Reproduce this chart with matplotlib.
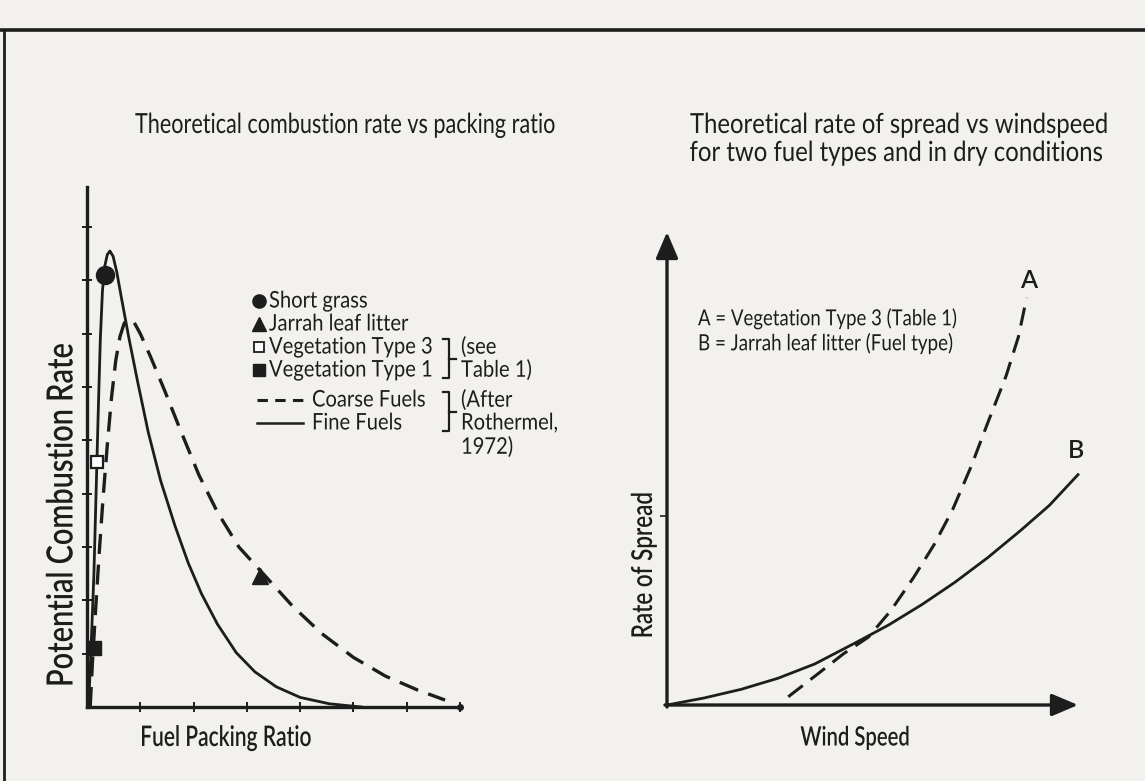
import matplotlib
matplotlib.use("Agg")
import matplotlib.pyplot as plt
from matplotlib.lines import Line2D
from matplotlib.patheffects import AbstractPathEffect
from matplotlib.transforms import Affine2D

# ---------------- data ----------------
# Left panel: theoretical combustion rate vs packing ratio (arbitrary units)
fine_x = [0.03, 0.08, 0.13, 0.17, 0.21, 0.25, 0.29, 0.33, 0.38, 0.43, 0.49, 0.56, 0.65, 0.78,
          0.95, 1.15, 1.38, 1.65, 1.9, 2.15, 2.45, 2.8, 3.15, 3.55, 4.0, 4.55, 5.15]
fine_y = [0.0, 1.2, 2.5, 4.0, 5.5, 6.9, 7.8, 8.25, 8.48, 8.55, 8.45, 8.15, 7.65, 6.95,
          6.1, 5.15, 4.25, 3.4, 2.7, 2.12, 1.55, 1.02, 0.66, 0.38, 0.18, 0.06, 0.0]
coarse_x = [0.06, 0.10, 0.16, 0.23, 0.30, 0.38, 0.46, 0.54, 0.62, 0.70, 0.79, 0.88, 1.0, 1.2,
            1.45, 1.75, 2.1, 2.45, 2.85, 3.35, 3.85, 4.4, 5.0, 5.6, 6.2, 6.72]
coarse_y = [0.0, 0.8, 1.8, 2.9, 3.9, 4.9, 5.8, 6.5, 6.95, 7.2, 7.27, 7.22, 7.0, 6.55,
            5.95, 5.2, 4.35, 3.65, 3.0, 2.45, 1.9, 1.38, 0.93, 0.58, 0.32, 0.13]
point_names = ["Short grass", "Jarrah leaf litter", "Vegetation Type 3", "Vegetation Type 1"]
point_x = [0.33, 3.25, 0.19, 0.14]
point_y = [8.1, 2.45, 4.6, 1.1]
left_xticks = [1, 2, 3, 4, 5, 6, 7]
left_yticks = [1, 2, 3, 4, 5, 6, 7, 8, 9]

# Right panel: theoretical rate of spread vs windspeed
B_x = [0, 0.9, 1.8, 2.7, 3.6, 4.6, 5.4, 6.2, 7.0, 7.8, 8.6, 9.3, 10.0]
B_y = [0, 0.17, 0.38, 0.65, 1.0, 1.52, 1.95, 2.44, 2.98, 3.58, 4.24, 4.85, 5.6]
A_x = [2.95, 3.7, 4.3, 4.9, 5.45, 6.0, 6.5, 6.95, 7.4, 7.8, 8.25, 8.55, 8.75]
A_y = [0.2, 0.78, 1.25, 1.65, 2.3, 3.1, 3.9, 4.75, 5.8, 6.85, 8.0, 8.95, 9.9]

INK = "#1d1d1d"
BG = "#f2f1ed"
FONT = ["Lato", "DejaVu Sans"]

W, H = 1145, 781
fig = plt.figure(figsize=(W / 100, H / 100), dpi=100, facecolor=BG)
plt.rcParams["font.family"] = FONT


def fx(px):
    return px / W


def fy(py):
    return 1 - py / H


class Squeeze(AbstractPathEffect):
    """draw the glyphs narrower (condensed face look), about an anchor point"""

    def __init__(self, s, cx, cy, vertical=False):
        super().__init__()
        self.s, self.cx, self.cy, self.vertical = s, cx, cy, vertical

    def draw_path(self, renderer, gc, tpath, affine, rgbFace=None):
        if self.vertical:
            extra = Affine2D().translate(0, -self.cy).scale(1, self.s).translate(0, self.cy)
        else:
            extra = Affine2D().translate(-self.cx, 0).scale(self.s, 1).translate(self.cx, 0)
        renderer.draw_path(gc, tpath, affine + extra, rgbFace)


def natural_width(t):
    bb = t.get_window_extent(renderer=fig.canvas.get_renderer())
    return bb.height if t.get_rotation() else bb.width


def ftext(x, y, s, width=None, size=14, rot=0, ha="left", va="center", weight="normal",
          sq=0.8, keep_size=False):
    """text of given width; keep_size=True keeps the size and adjusts the squeeze instead"""
    t = fig.text(fx(x), fy(y), s, fontsize=size, rotation=rot, ha=ha, va=va,
                 color=INK, fontweight=weight, family=FONT)
    if width:
        w = natural_width(t)
        if keep_size:
            sq = width / w
        else:
            t.set_fontsize(size * width / (w * sq))
    t.set_path_effects([Squeeze(sq, x, H - y, vertical=bool(rot))])
    return t


# page frame (top rule and left rule)
fig.add_artist(Line2D([fx(0), fx(W)], [fy(30), fy(30)], color=INK, lw=2.6))
fig.add_artist(Line2D([fx(4), fx(4)], [fy(30), fy(H)], color=INK, lw=2.0))

# ---------------- left panel ----------------
axL = fig.add_axes([fx(87), fy(707), fx(460) - fx(87), fy(187) - fy(707)])
axL.set_facecolor("none")
axL.set_xlim(0, 7)
axL.set_ylim(0, 9.75)
for s in ["top", "right"]:
    axL.spines[s].set_visible(False)
for s in ["left", "bottom"]:
    axL.spines[s].set_linewidth(2.4)
    axL.spines[s].set_color(INK)
axL.set_xticks(left_xticks)
axL.set_yticks(left_yticks)
axL.tick_params(direction="inout", length=7, width=1.4, color=INK,
                labelbottom=False, labelleft=False)
axL.plot([7], [0], marker="o", ms=4, color=INK, clip_on=False)

axL.plot(fine_x, fine_y, color=INK, lw=2.0, solid_joinstyle="round", clip_on=False)
axL.plot(coarse_x, coarse_y, color=INK, lw=2.4, dashes=(6, 3.2), clip_on=False)

styles = [dict(marker="o", ms=13, mfc=INK, mec=INK),
          dict(marker="^", ms=12, mfc=INK, mec=INK),
          dict(marker="s", ms=9, mfc="white", mec=INK, mew=1.6),
          dict(marker="s", ms=10, mfc=INK, mec=INK)]
for x, y, st in zip(point_x, point_y, styles):
    axL.plot([x], [y], linestyle="none", clip_on=False, zorder=5, **st)

# legend (manual, as in the reference)
leg_rows = [301, 324, 347, 370]
leg_styles = [dict(marker="o", ms=9.5, mfc=INK, mec=INK),
              dict(marker="^", ms=9.5, mfc=INK, mec=INK),
              dict(marker="s", ms=7.5, mfc="white", mec=INK, mew=1.3),
              dict(marker="s", ms=8, mfc=INK, mec=INK)]
LS = 16.5
LSQ = 0.88
for name, row, st in zip(point_names, leg_rows, leg_styles):
    fig.add_artist(Line2D([fx(259)], [fy(row)], linestyle="none", **st))
    ftext(269, row, name, size=LS, sq=LSQ)

line_rows = [400, 423]
fig.add_artist(Line2D([fx(257), fx(303)], [fy(line_rows[0])] * 2, color=INK, lw=2.2,
                      dashes=(3.4, 2.4)))
fig.add_artist(Line2D([fx(257), fx(303)], [fy(line_rows[1])] * 2, color=INK, lw=1.8))
ftext(312, line_rows[0], "Coarse Fuels", size=LS, sq=LSQ)
ftext(312, line_rows[1], "Fine Fuels", size=LS, sq=LSQ)


def bracket(x, y0, y1):
    ym = (y0 + y1) / 2
    fig.add_artist(Line2D([fx(x - 6), fx(x), fx(x), fx(x - 6)],
                          [fy(y0), fy(y0), fy(y1), fy(y1)], color=INK, lw=1.6))
    fig.add_artist(Line2D([fx(x), fx(x + 7)], [fy(ym), fy(ym)], color=INK, lw=1.6))


bracket(449, 339, 378)
ftext(461, 347, "(see", size=LS, sq=LSQ)
ftext(461, 370, "Table 1)", size=LS, sq=LSQ)
bracket(449, 392, 431)
ftext(461, 400, "(After", size=LS, sq=LSQ)
ftext(461, 423, "Rothermel,", size=LS, sq=LSQ)
ftext(461, 447, "1972)", size=LS, sq=LSQ)

# titles: same type size for both panels
tR = ftext(900, 125, "Theoretical rate of spread vs windspeed", width=420, size=14,
           ha="center", sq=0.86)
TS = tR.get_fontsize()
ftext(897, 153, "for two fuel types and in dry conditions", width=415, size=TS,
      ha="center", keep_size=True)
ftext(346, 125, "Theoretical combustion rate vs packing ratio", width=422, size=TS,
      ha="center", keep_size=True)

ftext(62, 515, "Potential Combustion Rate", width=345, size=15, rot=90, ha="center",
      weight="semibold", sq=0.8)
ftext(226, 738, "Fuel Packing Ratio", width=172, size=15, ha="center", weight="semibold", sq=0.74)

# ---------------- right panel ----------------
axR = fig.add_axes([fx(667), fy(705), fx(1078) - fx(667), fy(232) - fy(705)])
axR.set_facecolor("none")
axR.set_xlim(0, 10)
axR.set_ylim(0, 11.5)
for s in axR.spines.values():
    s.set_visible(False)
axR.set_xticks([])
axR.set_yticks([4.6])
axR.tick_params(axis="y", direction="out", length=5, width=1.2, color=INK, labelleft=False)
arrow = dict(arrowstyle="-|>,head_length=0.8,head_width=0.34", mutation_scale=20,
             color=INK, lw=2.4, shrinkA=0, shrinkB=0)
axR.annotate("", xy=(10, 0), xytext=(-0.05, 0), arrowprops=arrow, annotation_clip=False)
axR.annotate("", xy=(0, 11.5), xytext=(0, -0.05), arrowprops=arrow, annotation_clip=False)

axR.plot(B_x, B_y, color=INK, lw=2.0, clip_on=False)
axR.plot(A_x, A_y, color=INK, lw=2.2, dashes=(6, 3.2), clip_on=False)
axR.text(A_x[-1] + 0.05, A_y[-1] + 0.15, "A", ha="center", va="bottom", fontsize=18,
         color=INK, family=FONT, fontweight="semibold")
axR.text(B_x[-1] - 0.05, B_y[-1] + 0.3, "B", ha="center", va="bottom", fontsize=18,
         color=INK, family=FONT, fontweight="semibold")

ftext(698, 319, "A = Vegetation Type 3 (Table 1)", width=258, size=13, sq=0.84)
ftext(698, 344, "B = Jarrah leaf litter (Fuel type)", width=255, size=13, sq=0.84)

ftext(644, 565, "Rate of Spread", width=147, size=15, rot=90, ha="center", weight="semibold", sq=0.78)
ftext(855, 738, "Wind Speed", width=110, size=15, ha="center", weight="semibold", sq=0.76)

fig.savefig("out.png", dpi=100, facecolor=BG)
